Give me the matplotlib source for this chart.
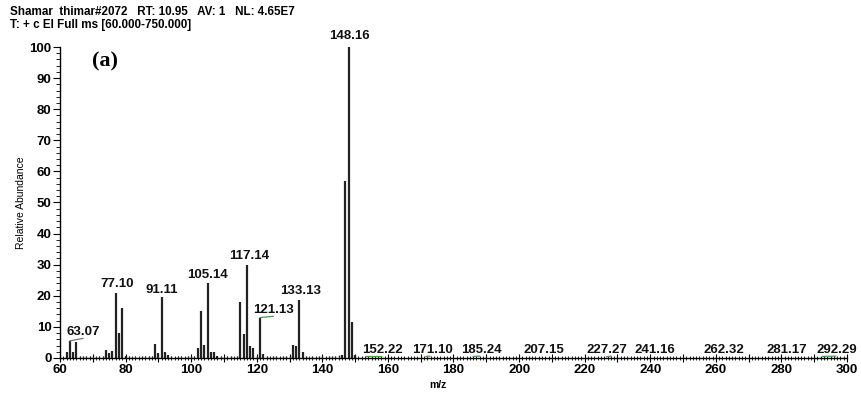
import matplotlib.pyplot as plt
from matplotlib.ticker import MultipleLocator, FuncFormatter

# main peaks (m/z, relative abundance)
mz = [62, 63, 64, 65, 74, 75, 76, 77, 78, 79, 80, 89, 90, 91, 92, 93,
      102, 103, 104, 105, 106, 107, 108, 115, 116, 117, 118, 119, 121, 122,
      131, 132, 133, 134, 146, 147, 148, 149, 150]
abund = [2.0, 5.5, 2.0, 5.0, 2.7, 1.7, 2.3, 21.0, 8.0, 16.0, 0.8, 4.5, 1.5, 19.5, 2.0, 1.0,
         3.3, 15.0, 4.2, 24.0, 2.0, 2.0, 0.8, 18.0, 7.8, 30.0, 3.8, 3.3, 13.0, 1.2,
         4.2, 3.7, 18.5, 2.0, 1.0, 57.0, 100.0, 11.5, 1.0]

# small baseline peaks
noise_mz = [66, 67, 68, 69, 70, 71, 72, 73, 81, 82, 83, 84, 85, 86, 87, 88, 94, 95, 96,
            97, 98, 99, 100, 101, 109, 110, 111, 112, 113, 114, 120, 123, 124, 125, 126,
            127, 128, 129, 130, 135, 136, 137, 138, 139, 140, 141, 142, 143, 144, 145]
noise_ab = [0.8, 0.6, 0.7, 0.5, 0.6, 0.4, 0.5, 0.6, 0.5, 0.4, 0.5, 0.4, 0.7, 0.6, 0.5, 0.6, 0.5, 0.4, 0.6,
            0.5, 0.4, 0.6, 0.5, 0.7, 0.5, 0.4, 0.6, 0.5, 0.4, 0.6, 0.6, 0.5, 0.4, 0.5, 0.6,
            0.4, 0.5, 0.6, 0.7, 0.5, 0.4, 0.5, 0.4, 0.6, 0.5, 0.4, 0.6, 0.5, 0.7, 0.9]

# peak labels: text, label centre x, label bottom y
labels = ['63.07', '77.10', '91.11', '105.14', '117.14', '121.13', '133.13', '148.16',
          '152.22', '171.10', '185.24', '207.15', '227.27', '241.16', '262.32', '281.17', '292.29']
lab_x = [67.0, 77.4, 91.1, 105.1, 117.6, 125.1, 133.5, 148.3,
         158.2, 173.7, 188.4, 207.5, 226.8, 241.4, 262.4, 281.6, 296.9]
lab_y = [6.4, 22.0, 20.0, 24.8, 31.0, 13.6, 19.7, 101.5,
         0.8, 0.8, 0.8, 0.8, 0.8, 0.8, 0.8, 0.8, 0.8]
# leader lines from peak to label
leader_x = [(63, 67), (121, 125), (153, 158), (171.6, 172.8), (186, 188), (226.8, 228), (292.6, 296.6)]
leader_y = [(5.5, 6.3), (13.0, 13.4), (0.6, 0.6), (0.5, 0.6), (0.5, 0.6), (0.4, 0.6), (0.5, 0.6)]
leader_c = ['#777777', '#4a9a4a', '#4a9a4a', '#4a9a4a', '#4a9a4a', '#4a9a4a', '#4a9a4a']

plt.rcParams['font.family'] = ['Liberation Sans', 'DejaVu Sans']

fig = plt.figure(figsize=(8.61, 3.94), dpi=100)
ax = fig.add_axes([0.0697, 0.0914, 0.914, 0.7893])

ax.vlines(noise_mz, 0, noise_ab, color='#333333', linewidth=1.0)
ax.vlines(mz, 0, abund, color='#222222', linewidth=1.6)

for t, x, y in zip(labels, lab_x, lab_y):
    ax.text(x, y, t, ha='center', va='bottom', fontsize=9.5, fontweight='bold',
            color='#111111', clip_on=False)
for xs, ys, c in zip(leader_x, leader_y, leader_c):
    ax.plot(xs, ys, color=c, linewidth=0.9)

ax.set_xlim(60, 300)
ax.set_ylim(0, 100)
ax.xaxis.set_major_locator(MultipleLocator(10))
ax.xaxis.set_minor_locator(MultipleLocator(1))
ax.xaxis.set_major_formatter(FuncFormatter(lambda v, p: '%d' % v if int(round(v)) % 20 == 0 else ''))
ax.yaxis.set_major_locator(MultipleLocator(10))
ax.yaxis.set_minor_locator(MultipleLocator(2))

for s in ['top', 'right']:
    ax.spines[s].set_visible(False)
ax.spines['left'].set_linewidth(1.0)
ax.spines['bottom'].set_linewidth(1.0)

ax.tick_params(axis='x', which='major', direction='inout', length=6, labelsize=9.5, pad=1)
ax.tick_params(axis='x', which='minor', direction='inout', length=3)
ax.tick_params(axis='y', which='major', direction='out', length=5, labelsize=9.5, pad=1)
ax.tick_params(axis='y', which='minor', direction='out', length=3)
for lbl in ax.get_xticklabels() + ax.get_yticklabels():
    lbl.set_fontweight('bold')

ax.set_xlabel('m/z', fontsize=7.5, fontweight='bold')
ax.xaxis.set_label_coords(0.48, -0.07)
ax.set_ylabel('Relative Abundance', fontsize=7.5)
ax.yaxis.set_label_coords(-0.043, 0.5)

fig.text(0.012, 0.955, 'Shamar  thimar#2072   RT: 10.95   AV: 1   NL: 4.65E7',
         fontsize=8.4, fontweight='bold', va='bottom')
fig.text(0.012, 0.922, 'T: + c EI Full ms [60.000-750.000]', fontsize=8.4,
         fontweight='bold', va='bottom')
ax.text(69.8, 92, '(a)', fontsize=16, fontweight='bold', family='Liberation Serif',
        ha='left', va='bottom')

fig.savefig('out.png', dpi=100)
